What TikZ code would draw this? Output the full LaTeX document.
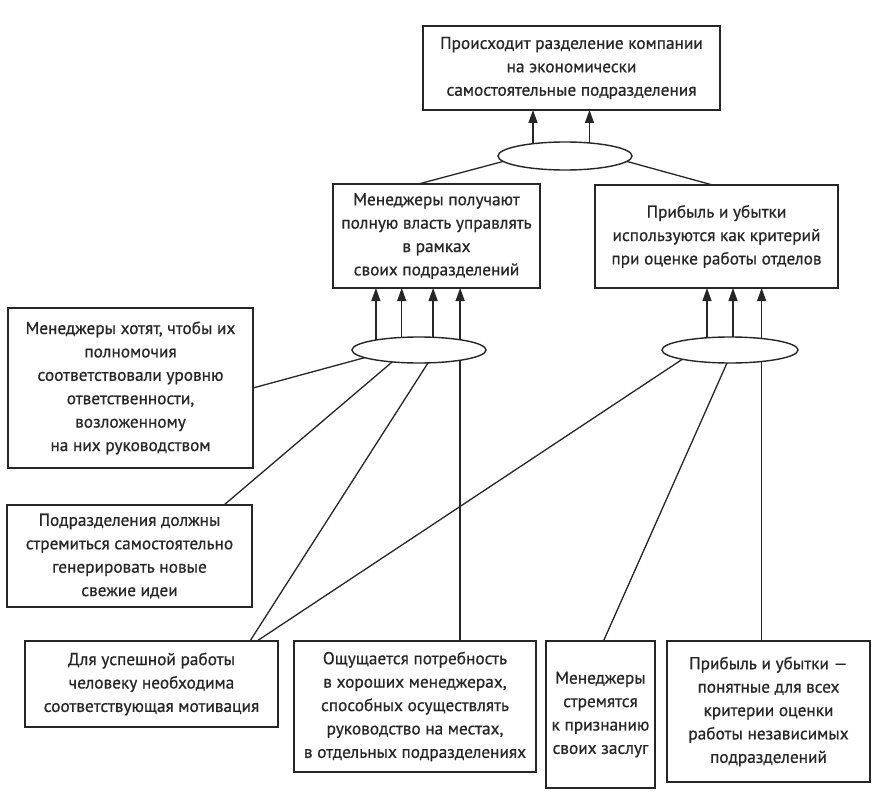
\documentclass[tikz,border=0pt]{standalone}
\usepackage{fontspec}
\setmainfont{PT Sans}
\newfontfamily\boxfont{PT Sans}[FakeBold=0.6]
\usetikzlibrary{shapes.geometric,arrows.meta}
\definecolor{ink}{HTML}{262626}
\begin{document}
\begin{tikzpicture}[x=1pt,y=-1pt,
  box/.style={draw=ink, line width=1.7pt, fill=white, align=center, inner sep=0pt, outer sep=0pt, text=ink, font=\boxfont\fontsize{17.3}{23.4}\selectfont},
  oval/.style={ellipse, draw=ink, line width=1.4pt, fill=white, inner sep=0pt, outer sep=0pt},
  link/.style={draw=ink, line width=1.3pt},
  arr/.style={link, -{Triangle[length=13pt,width=9pt]}}
]
\fill[white] (0,0) rectangle (889,797);
\useasboundingbox (0,0) rectangle (889,797);

% boxes
\node[box, minimum width=297pt, minimum height=84pt] (T) at (571.5,68)
  {Происходит разделение компании\\на экономически\\самостоятельные подразделения};
\node[box, minimum width=207pt, minimum height=104pt] (M1) at (436.5,236)
  {Менеджеры получают\\полную власть управлять\\в рамках\\своих подразделений};
\node[box, minimum width=243pt, minimum height=103pt] (M2) at (716.5,236.5)
  {Прибыль и убытки\\используются как критерий\\при оценке работы отделов};
\node[box, minimum width=245pt, minimum height=160pt] (L1) at (130.5,388)
  {Менеджеры хотят, чтобы их\\полномочия\\соответствовали уровню\\ответственности,\\возложенному\\на них руководством};
\node[box, minimum width=245pt, minimum height=102pt] (L2) at (129.5,556)
  {Подразделения должны\\стремиться самостоятельно\\генерировать новые\\свежие идеи};
\node[box, minimum width=253pt, minimum height=86pt] (B1) at (151.5,684)
  {Для успешной работы\\человеку необходима\\соответствующая мотивация};
\node[box, minimum width=242pt, minimum height=131pt] (B2) at (415,706.5)
  {Ощущается потребность\\в хороших менеджерах,\\способных осуществлять\\руководство на местах,\\в отдельных подразделениях};
\node[box, minimum width=109pt, minimum height=147pt] (B3) at (600.5,714.5)
  {Менеджеры\\стремятся\\к признанию\\своих заслуг};
\node[box, minimum width=203pt, minimum height=141pt] (B4) at (768.5,711.5)
  {Прибыль и убытки —\\понятные для всех\\критерии оценки\\работы независимых\\подразделений};

% ellipses
\node[oval, minimum width=134pt, minimum height=28pt] (E1) at (565,156) {};
\node[oval, minimum width=134pt, minimum height=26pt] (E2) at (419,350) {};
\node[oval, minimum width=136pt, minimum height=26pt] (E3) at (730,350) {};

% arrows up
\draw[arr] (E1.159) -- (E1.159 |- T.south);
\draw[arr] (E1.28) -- (E1.28 |- T.south);
\draw[arr] (E2.167) -- (E2.167 |- M1.south);
\draw[arr] (E2.144) -- (E2.144 |- M1.south);
\draw[arr] (E2.42) -- (E2.42 |- M1.south);
\draw[arr] (E2.14) -- (E2.14 |- M1.south);
\draw[arr] (E3.152) -- (E3.152 |- M2.south);
\draw[arr] (E3.77) -- (E3.77 |- M2.south);
\draw[arr] (E3.20) -- (E3.20 |- M2.south);

% plain links
\draw[link] (E1.185) -- ([xshift=-18pt]M1.north);
\draw[link] (E1.355) -- ([xshift=-4pt]M2.north);
\draw[link] (E2.188) -- (L1.east);
\draw[link] (E2.204) -- ([xshift=-28pt]L2.north east);
\draw[link] (E2.305) -- ([xshift=-28pt]B1.north east);
\draw[link] (E2.346) -- (E2.346 |- B2.north);
\draw[link] (E3.191) -- ([xshift=-21pt]B1.north east);
\draw[link] (E3.257) -- ([xshift=3pt]B3.north);
\draw[link] (E3.340) -- (E3.340 |- B4.north);
\end{tikzpicture}
\end{document}
